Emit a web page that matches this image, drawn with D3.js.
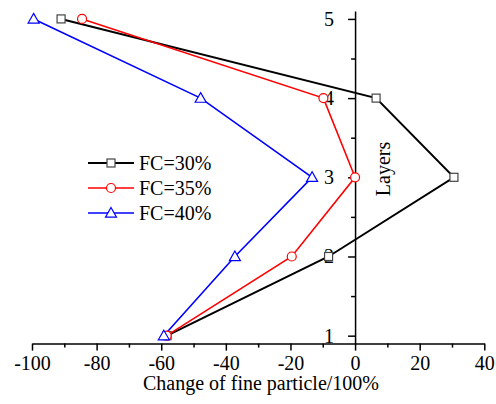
<!DOCTYPE html>
<html>
<head>
<meta charset="utf-8">
<script src="https://cdn.jsdelivr.net/npm/d3@7/dist/d3.min.js"></script>
<style>
  html, body { margin: 0; padding: 0; background: #fff; }
  svg { display: block; font-family: "Liberation Serif", "Times New Roman", serif; }
</style>
</head>
<body>
<svg id="chart" width="496" height="404"></svg>
<script>
const layers = [5, 4, 3, 2, 1];
const fc30 = [-91, 6.5, 30.6, -8.2, -58.2];
const fc35 = [-84.5, -9.8, 0, -19.6, -58.3];
const fc40 = [-99.5, -47.8, -13.3, -37.2, -59.2];
const seriesNames = ["FC=30%", "FC=35%", "FC=40%"];
const xMajorTicks = [-100, -80, -60, -40, -20, 0, 20, 40];
const xMinorTicks = [-90, -70, -50, -30, -10, 10, 30];
const yMajorTicks = [1, 2, 3, 4, 5];
const yMinorTicks = [1.5, 2.5, 3.5, 4.5];
const xTitle = "Change of fine particle/100%";
const yTitle = "Layers";

const svg = d3.select("#chart");
const x = d3.scaleLinear().domain([-100, 40]).range([32, 484.3]);
const y = d3.scaleLinear().domain([0.9, 5.1]).range([343.6, 11]);
const fontSize = 20;

function styleAxis(g) {
  g.selectAll("path.domain").attr("stroke", "#000").attr("stroke-width", 1.5);
  g.selectAll(".tick line").attr("stroke", "#000").attr("stroke-width", 1.5);
  g.selectAll(".tick text").attr("fill", "#000").attr("font-size", fontSize)
    .attr("font-family", "Liberation Serif, Times New Roman, serif");
}

// X axis
const gx = svg.append("g").attr("transform", `translate(0,${y(0.9)})`)
  .call(d3.axisBottom(x).tickValues(xMajorTicks).tickSize(7).tickSizeOuter(0).tickPadding(5).tickFormat(d3.format("d")));
styleAxis(gx);
gx.selectAll(".tick text").text(d => d < 0 ? "-" + Math.abs(d) : String(d));
const gxm = svg.append("g").attr("transform", `translate(0,${y(0.9)})`)
  .call(d3.axisBottom(x).tickValues(xMinorTicks).tickSize(4).tickSizeOuter(0).tickFormat(""));
styleAxis(gxm);
gxm.select("path.domain").remove();

// Y axis at x = 0
const gy = svg.append("g").attr("transform", `translate(${x(0)},0)`)
  .call(d3.axisLeft(y).tickValues(yMajorTicks).tickSize(7).tickSizeOuter(0).tickPadding(14).tickFormat(d3.format("d")));
styleAxis(gy);
const gym = svg.append("g").attr("transform", `translate(${x(0)},0)`)
  .call(d3.axisLeft(y).tickValues(yMinorTicks).tickSize(4).tickSizeOuter(0).tickFormat(""));
styleAxis(gym);
gym.select("path.domain").remove();

// Titles
svg.append("text").attr("x", 261).attr("y", 390).attr("text-anchor", "middle")
  .attr("font-size", fontSize).attr("fill", "#000").text(xTitle);
svg.append("text").attr("transform", "translate(383,169) rotate(-90)")
  .attr("text-anchor", "middle").attr("dy", "0.35em")
  .attr("font-size", fontSize).attr("fill", "#000").text(yTitle);

const series = [
  { name: seriesNames[0], values: fc30, color: "#000", marker: "square", width: 2, mstroke: "#444" },
  { name: seriesNames[1], values: fc35, color: "#ff0000", marker: "circle", width: 1.6, mstroke: "#ff0000" },
  { name: seriesNames[2], values: fc40, color: "#0000ff", marker: "triangle", width: 1.6, mstroke: "#0000ff" }
];

const line = d3.line().x(d => x(d[0])).y(d => y(d[1]));

function drawMarker(g, type, cx, cy, stroke) {
  if (type === "square") {
    g.append("rect").attr("x", cx - 4).attr("y", cy - 4).attr("width", 8).attr("height", 8)
      .attr("fill", "#fff").attr("stroke", stroke).attr("stroke-width", 1.2);
  } else if (type === "circle") {
    g.append("circle").attr("cx", cx).attr("cy", cy).attr("r", 4.5)
      .attr("fill", "#fff").attr("stroke", stroke).attr("stroke-width", 1.2);
  } else {
    const s = 5.5;
    g.append("path").attr("d", `M${cx},${cy - s} L${cx + s},${cy + s * 0.75} L${cx - s},${cy + s * 0.75} Z`)
      .attr("fill", "#fff").attr("stroke", stroke).attr("stroke-width", 1.2);
  }
}

series.forEach(s => {
  const pts = s.values.map((v, i) => [v, layers[i]]);
  svg.append("path").datum(pts).attr("d", line).attr("fill", "none")
    .attr("stroke", s.color).attr("stroke-width", s.width);
});
series.forEach(s => {
  const g = svg.append("g");
  s.values.forEach((v, i) => drawMarker(g, s.marker, x(v), y(layers[i]), s.mstroke));
});

// Legend
const legendY = [163, 188, 213];
series.forEach((s, i) => {
  const g = svg.append("g");
  g.append("line").attr("x1", 88).attr("x2", 134).attr("y1", legendY[i]).attr("y2", legendY[i])
    .attr("stroke", s.color).attr("stroke-width", s.width);
  drawMarker(g, s.marker, 111, legendY[i], s.mstroke);
  g.append("text").attr("x", 139).attr("y", legendY[i]).attr("dy", "0.35em")
    .attr("font-size", fontSize).attr("fill", "#000").text(s.name);
});
</script>
</body>
</html>
